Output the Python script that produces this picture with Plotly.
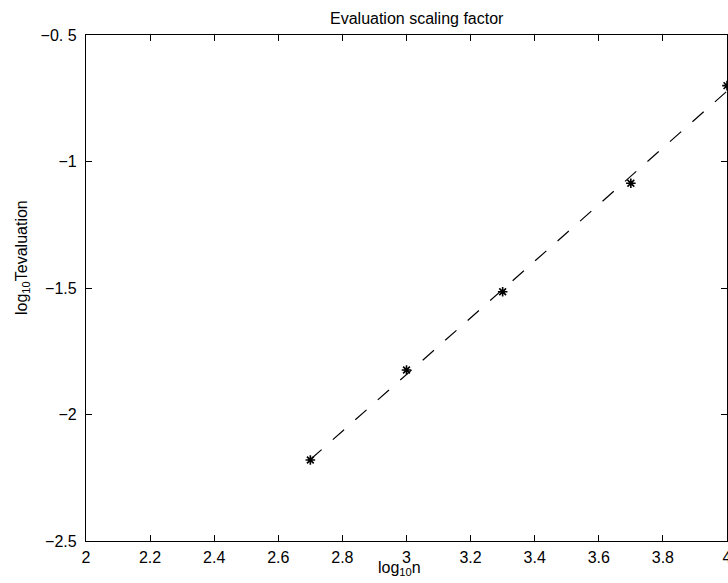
import plotly.graph_objects as go

# Measured timings (log10 scale)
log_n = [2.7, 3.0, 3.3, 3.7, 4.0]
log_t_eval = [-2.18, -1.824, -1.515, -1.086, -0.700]

# Least-squares fit line endpoints
fit_x = [2.7, 4.0]
fit_y = [-2.178, -0.722]

x_ticks = [2.0, 2.2, 2.4, 2.6, 2.8, 3.0, 3.2, 3.4, 3.6, 3.8, 4.0]
x_ticktext = ["2", "2.2", "2.4", "2.6", "2.8", "3", "3.2", "3.4", "3.6", "3.8", "4"]
y_ticks = [-2.5, -2.0, -1.5, -1.0, -0.5]
y_ticktext = ["−2.5", "−2", "−1.5", "−1", "−0. 5"]

FONT = "Liberation Sans, Arial, Helvetica, sans-serif"
FS = 16

fig = go.Figure()
fig.add_trace(go.Scatter(
    x=fit_x, y=fit_y, mode="lines",
    line=dict(color="black", width=1.2, dash="15px,15px"),
    showlegend=False, hoverinfo="skip",
))
fig.add_trace(go.Scatter(
    x=log_n, y=log_t_eval, mode="markers",
    marker=dict(symbol="asterisk-open", size=8, color="black",
                line=dict(color="black", width=1.6)),
    showlegend=False, cliponaxis=False,
))

axis_common = dict(
    showgrid=False, zeroline=False,
    showline=True, linecolor="black", linewidth=1.3,
    mirror="ticks", ticks="inside", ticklen=6, tickwidth=1, tickcolor="black",
    tickfont=dict(family=FONT, size=FS, color="black"),
    ticklabeloverflow="allow", automargin=False,
)

fig.update_layout(
    width=728, height=583,
    margin=dict(l=86, r=1, t=35, b=42, autoexpand=False),
    plot_bgcolor="white", paper_bgcolor="white",
    xaxis=dict(range=[2, 4], tickvals=x_ticks, ticktext=x_ticktext,
               ticklabelstandoff=2, **axis_common),
    yaxis=dict(range=[-2.5, -0.5], tickvals=y_ticks, ticktext=y_ticktext,
               ticklabelstandoff=5, **axis_common),
    font=dict(family=FONT, size=FS, color="black"),
    annotations=[
        dict(text="Evaluation scaling factor", x=416.5, y=19,
             font=dict(family=FONT, size=FS, color="black")),
        dict(text="log<sub>10</sub>n", x=399, y=568,
             font=dict(family=FONT, size=FS, color="black")),
        dict(text="log<sub>10</sub>Tevaluation", x=22, y=258,
             textangle=-90,
             font=dict(family=FONT, size=FS, color="black")),
    ],
)

# Place the text annotations in pixel coordinates of the page
W, H = 728, 583
L, R, T, B = 86, 1, 35, 42
pw, ph = W - L - R, H - T - B
for a in fig.layout.annotations:
    px, py = a.x, a.y
    a.x = (px - L) / pw
    a.y = 1 - (py - T) / ph
    a.xref = "paper"
    a.yref = "paper"
    a.xanchor = "center"
    a.yanchor = "middle"
    a.showarrow = False

fig.write_html("out.html")
